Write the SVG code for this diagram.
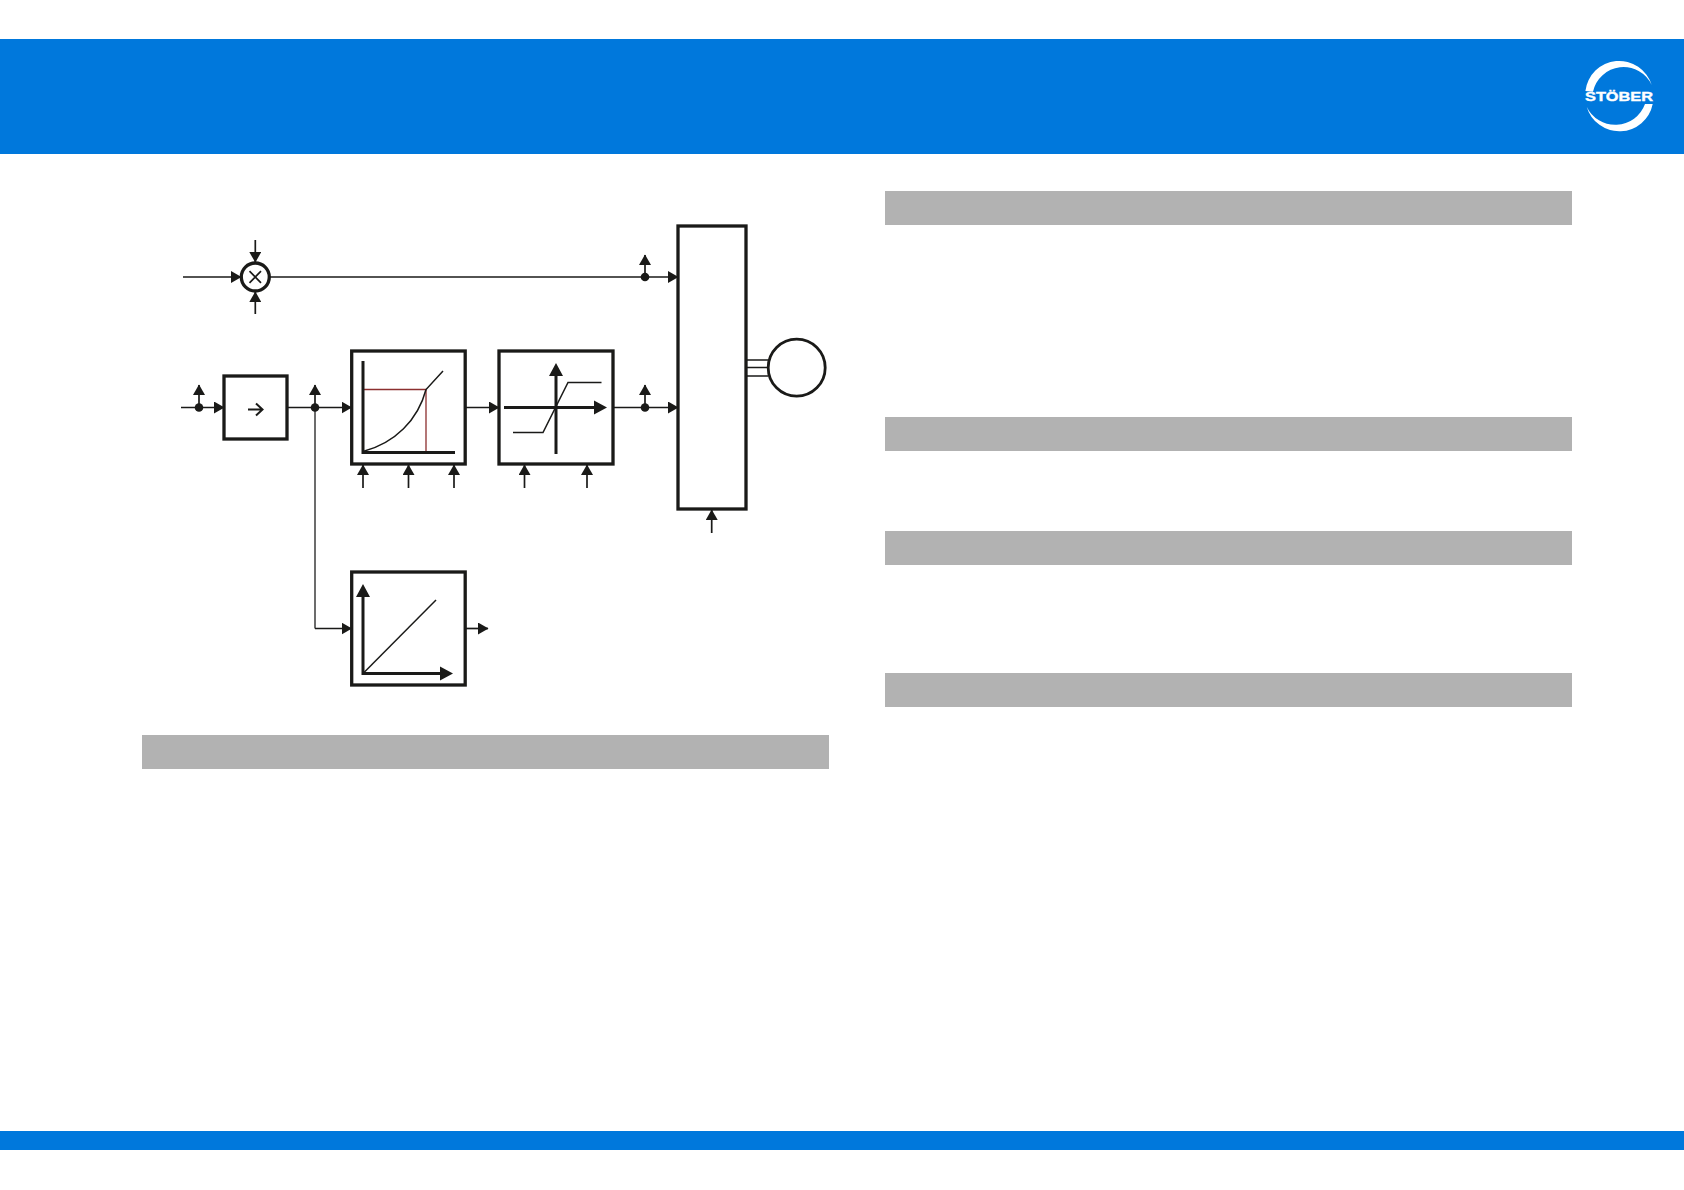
<svg xmlns="http://www.w3.org/2000/svg" width="1684" height="1190" viewBox="0 0 1684 1190">
<style>
.band{fill:#0078dc}
.bar{fill:#b2b2b2}
.box{fill:#fff;stroke:#1a1a18;stroke-width:3.300}
.mot{fill:#fff;stroke:#1a1a18;stroke-width:2.800}
.ln{fill:none;stroke:#1a1a18;stroke-width:1.700}
.gr{fill:none;stroke:#5c5c5c;stroke-width:1.800}
.cv{fill:none;stroke:#1a1a18;stroke-width:1.500}
.ax{fill:none;stroke:#1a1a18;stroke-width:3}
.red{fill:none;stroke:#8c2f2f;stroke-width:1.300}
.dot{fill:#1a1a18}
.big{fill:#1a1a18}
</style>
<defs>
<marker id="a" markerUnits="userSpaceOnUse" markerWidth="11" markerHeight="12" refX="10" refY="6" orient="auto"><path d="M0 0L10.500 6L0 12Z" fill="#1a1a18"/></marker>
</defs>
<rect width="1684" height="1190" fill="#fff"/>
<g id="header"><rect class="band" x="0" y="39" width="1684" height="115"/></g>
<g id="footer"><rect class="band" x="0" y="1131" width="1684" height="19"/></g>
<g id="logo">
<path d="M1585.400 91A34 34 0 0 1 1651.700 85A31.200 31.200 0 0 0 1593 91.700Z" fill="#fff"/>
<path d="M1652.700 104A34 34 0 0 1 1586.700 106.700A31.600 31.600 0 0 0 1645 104Z" fill="#fff"/>
<text x="1585" y="100.800" font-family="'Liberation Sans',Arial,sans-serif" font-weight="700" font-size="13" fill="#fff" stroke="#fff" stroke-width="0.400" textLength="68" lengthAdjust="spacingAndGlyphs">STÖBER</text>
</g>
<g id="bars">
<rect class="bar" x="142" y="735" width="687" height="34"/>
<rect class="bar" x="885" y="191" width="687" height="34"/>
<rect class="bar" x="885" y="417" width="687" height="34"/>
<rect class="bar" x="885" y="531" width="687" height="34"/>
<rect class="bar" x="885" y="673" width="687" height="34"/>
</g>
<g id="connectors">
<path class="ln" d="M183 277H241" marker-end="url(#a)"/>
<path class="ln" d="M255.300 240V262" marker-end="url(#a)"/>
<path class="ln" d="M255.300 314V292" marker-end="url(#a)"/>
<path class="ln" d="M270 277H678" marker-end="url(#a)"/>
<path class="ln" d="M645 277V255" marker-end="url(#a)"/>
<path class="ln" d="M181 407.500H224" marker-end="url(#a)"/>
<path class="ln" d="M199 407.500V385" marker-end="url(#a)"/>
<path class="ln" d="M287 407.500H351.500" marker-end="url(#a)"/>
<path class="ln" d="M315 407.500V385" marker-end="url(#a)"/>
<path class="gr" d="M315 407.500V628.500"/>
<path class="ln" d="M315 628.500H351.500" marker-end="url(#a)"/>
<path class="ln" d="M465 407.500H499" marker-end="url(#a)"/>
<path class="ln" d="M613 407.500H678" marker-end="url(#a)"/>
<path class="ln" d="M645 407.500V385" marker-end="url(#a)"/>
<path class="ln" d="M363 488V465" marker-end="url(#a)"/>
<path class="ln" d="M408.500 488V465" marker-end="url(#a)"/>
<path class="ln" d="M454 488V465" marker-end="url(#a)"/>
<path class="ln" d="M524.500 488V465" marker-end="url(#a)"/>
<path class="ln" d="M587 488V465" marker-end="url(#a)"/>
<path class="ln" d="M711.700 533V510" marker-end="url(#a)"/>
<path class="ln" d="M465 628.500H488" marker-end="url(#a)"/>
<path class="ln" d="M746 360H768M746 367.500H768M746 376H768"/>
<circle class="dot" cx="199" cy="407.500" r="4.300"/>
<circle class="dot" cx="315" cy="407.500" r="4.300"/>
<circle class="dot" cx="645" cy="277" r="4.300"/>
<circle class="dot" cx="645" cy="407.500" r="4.300"/>
</g>
<g id="mult"><circle class="box" cx="255.300" cy="277" r="14"/><path class="ln" d="M249.500 271.200L261 282.800M261 271.200L249.500 282.800"/></g>
<g id="conv"><rect class="box" x="224" y="376" width="63" height="63"/><path fill="none" stroke="#1a1a18" stroke-width="2" d="M248 409.500H262M256 403.500L262.500 409.500L256 415.500"/></g>
<g id="curve"><rect class="box" x="351.700" y="351" width="113.500" height="113"/>
<path class="red" d="M363 389.500H426V452"/>
<path class="ax" d="M363 361V452.500H455"/>
<path class="cv" d="M363 451.500C395 443 418 420 426 389.500L443 371"/></g>
<g id="limit"><rect class="box" x="499" y="351" width="114" height="113"/>
<path class="ax" d="M556 454V368M504 407.500H596"/>
<path class="big" d="M549 376L556 363L563 376ZM594 400.500L607 407.500L594 414.500Z"/>
<path class="cv" d="M513 432.500H543L568 382.500H601.500"/></g>
<g id="inverter"><rect class="box" x="678" y="226" width="68" height="283"/></g>
<g id="motor"><circle class="mot" cx="796.700" cy="367.700" r="28.500"/></g>
<g id="ramp"><rect class="box" x="351.700" y="572" width="113.500" height="113"/>
<path class="ax" d="M363 596V673.500H442"/>
<path class="big" d="M356 597L363 584L370 597ZM440 666.500L453 673.500L440 680.500Z"/>
<path class="cv" d="M363 673.500L436 600"/></g>
</svg>
